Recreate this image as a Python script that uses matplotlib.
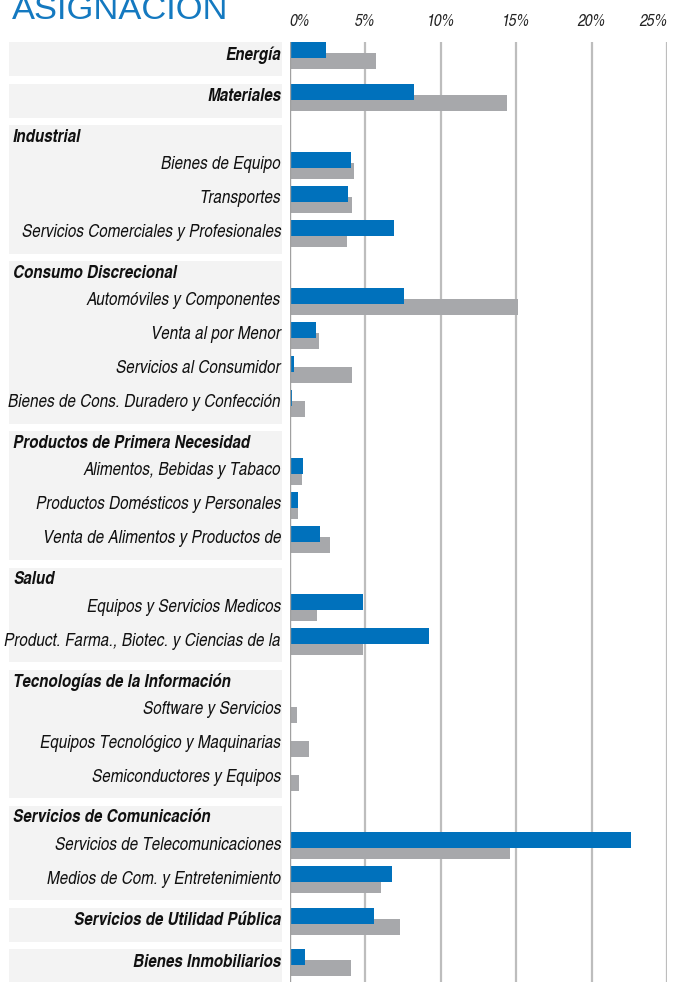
import matplotlib
matplotlib.use('Agg')
import matplotlib.pyplot as plt
from matplotlib import font_manager
from matplotlib.font_manager import FontProperties
from matplotlib.textpath import TextPath
from matplotlib.patches import Rectangle
from matplotlib.transforms import blended_transform_factory

# sector / industry structure
sector_names = ['Energía', 'Materiales', 'Industrial', 'Consumo Discrecional',
                'Productos de Primera Necesidad', 'Salud', 'Tecnologías de la Información',
                'Servicios de Comunicación', 'Servicios de Utilidad Pública', 'Bienes Inmobiliarios']
row_labels = ['Energía', 'Materiales',
              'Bienes de Equipo', 'Transportes', 'Servicios Comerciales y Profesionales',
              'Automóviles y Componentes', 'Venta al por Menor', 'Servicios al Consumidor',
              'Bienes de Cons. Duradero y Confección',
              'Alimentos, Bebidas y Tabaco', 'Productos Domésticos y Personales',
              'Venta de Alimentos y Productos de',
              'Equipos y Servicios Medicos', 'Product. Farma., Biotec. y Ciencias de la',
              'Software y Servicios', 'Equipos Tecnológico y Maquinarias', 'Semiconductores y Equipos',
              'Servicios de Telecomunicaciones', 'Medios de Com. y Entretenimiento',
              'Servicios de Utilidad Pública', 'Bienes Inmobiliarios']
row_sector = [0, 1, 2, 2, 2, 3, 3, 3, 3, 4, 4, 4, 5, 5, 6, 6, 6, 7, 7, 8, 9]

# weights in %
fund = [2.41, 8.26, 4.09, 3.89, 6.94, 7.60, 1.74, 0.28, 0.15, 0.88, 0.57, 2.00,
        4.86, 9.23, 0.10, 0.0, 0.0, 22.58, 6.80, 5.61, 1.04]
benchmark = [5.74, 14.36, 4.29, 4.15, 3.82, 15.09, 1.94, 4.13, 1.01, 0.82, 0.55, 2.67,
             1.81, 4.86, 0.48, 1.28, 0.64, 14.56, 6.08, 7.34, 4.09]
xticks = [0, 5, 10, 15, 20, 25]

BLUE = '#0071BC'
GREY = '#A7A8AB'
BOX = '#F3F3F3'

# the original uses an Arial-Narrow-like face: pick the installed italic sans
# whose cap height / text width ratio is closest to it
SAMPLE = 'Servicios Comerciales y Profesionales'
TARGET_W, TARGET_CAP = 258.0, 13.3


def ink(fp, text):
    return TextPath((0, 0), text, size=100, prop=fp).get_extents()


groups = {}
for f in font_manager.fontManager.ttflist:
    if f.style not in ('italic', 'oblique'):
        continue
    if any(k in f.name for k in ('Mono', 'Serif', 'CJK', 'Math', 'Display', 'Symbol')):
        continue
    w = f.weight if isinstance(f.weight, int) else 400
    kind = 'reg' if 380 <= w <= 500 else ('bold' if 600 <= w <= 800 else None)
    if kind:
        groups.setdefault((f.name, str(f.stretch)), {}).setdefault(kind, f.fname)

best = None
for key, faces in groups.items():
    if 'reg' not in faces or 'bold' not in faces:
        continue
    fp = FontProperties(fname=faces['reg'])
    try:
        ratio = ink(fp, 'H').height / ink(fp, SAMPLE).width
    except Exception:
        continue
    err = abs(ratio - TARGET_CAP / TARGET_W)
    if best is None or err < best[0]:
        best = (err, faces)

if best:
    fp_reg = FontProperties(fname=best[1]['reg'])
    fp_bold = FontProperties(fname=best[1]['bold'])
else:
    fp_reg = FontProperties(family='Liberation Sans', style='italic')
    fp_bold = FontProperties(family='Liberation Sans', style='italic', weight='bold')


def fit(fp, text, target_px):
    # font size (pt at 100 dpi) giving the wanted ink width
    fp = fp.copy()
    fp.set_size(100 * target_px / ink(fp, text).width * 0.72)
    return fp


lab_fp = fit(fp_reg, SAMPLE, TARGET_W)
head_fp = fit(fp_bold, 'Productos de Primera Necesidad', 237)
tick_fp = fit(fp_reg, '10%', 25)

W, H = 674, 982
fig = plt.figure(figsize=(W / 100, H / 100), dpi=100)
top_px = 42
ax = fig.add_axes([289.5 / W, 0, (667.3 - 289.5) / W, (H - top_px) / H])
ax.set_xlim(0, 25)
ax.set_ylim(H, top_px)

# layout in pixel units
ITEM, HEAD, GAP = 34, 26.5, 7.6
slots, headers, boxes = [], [], []
y = top_px
for s in range(len(sector_names)):
    rows = [i for i, g in enumerate(row_sector) if g == s]
    y0 = y
    if len(rows) > 1:
        headers.append((sector_names[s], y))
        y += HEAD
    for i in rows:
        slots.append(y)
        y += ITEM
    boxes.append((y0, y))
    y += GAP

blue_y = [s + 8 for s in slots]
grey_y = [s + 19 for s in slots]
ax.barh(grey_y, benchmark, height=16, color=GREY, zorder=2)
ax.barh(blue_y, fund, height=16, color=BLUE, zorder=3)

for v in xticks[1:]:
    ax.axvline(v, color='#BDBDBD', lw=1.6, zorder=1)
ax.axvline(0, color='#A0A0A0', lw=1.0, zorder=4)

for sp in ax.spines.values():
    sp.set_visible(False)
ax.set_yticks([])
ax.xaxis.tick_top()
ax.set_xticks(xticks)
ax.set_xticklabels([f'{v}%' for v in xticks], fontproperties=tick_fp, color='#222222')
ax.tick_params(axis='x', length=0, pad=9)
labs = ax.get_xticklabels()
labs[0].set_ha('left')
labs[-1].set_ha('right')

tr = blended_transform_factory(fig.transFigure, ax.transData)
for y0, y1 in boxes:
    ax.add_patch(Rectangle((9 / W, y0), (282 - 9) / W, y1 - y0, transform=tr,
                           facecolor=BOX, edgecolor='none', clip_on=False, zorder=0))

for name, yh in headers:
    ax.text(13 / W, yh + 12, name, transform=tr, ha='left', va='center',
            fontproperties=head_fp, color='#111111')

single = {i for i in range(len(row_labels)) if row_sector.count(row_sector[i]) == 1}
for i, lab in enumerate(row_labels):
    ax.text(281 / W, slots[i] + 13, lab, transform=tr, ha='right', va='center',
            fontproperties=head_fp if i in single else lab_fp, color='#111111')

fig.text(12 / W, 1 - 19 / H, 'ASIGNACIÓN', ha='left', va='baseline',
         fontsize=24.8, fontfamily='Liberation Sans', color='#1479C0')

fig.savefig('out.png', dpi=100)
